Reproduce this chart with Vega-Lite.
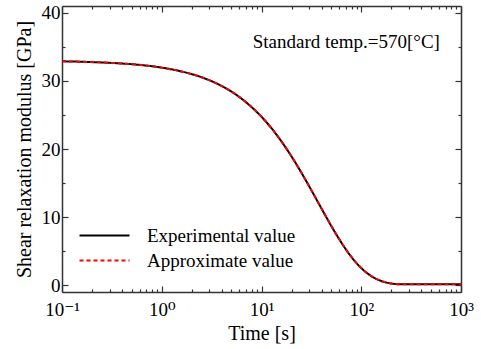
{
  "$schema": "https://vega.github.io/schema/vega-lite/v6.json",
  "width": 399,
  "height": 286,
  "autosize": {"type": "none"},
  "padding": {"left": 62, "top": 6, "right": 20, "bottom": 57},
  "background": "white",
  "config": {
    "view": {"stroke": null},
    "font": "Liberation Serif, DejaVu Serif",
    "axis": {"labelFont": "Liberation Serif, DejaVu Serif", "titleFont": "Liberation Serif, DejaVu Serif", "labelFontSize": 19, "titleFontSize": 20, "titleFontWeight": "normal", "labelColor": "black", "titleColor": "black", "domainColor": "#333", "tickColor": "#333", "domainWidth": 1.5, "tickWidth": 1.2, "grid": false},
    "legend": {"labelFont": "Liberation Serif, DejaVu Serif", "labelFontSize": 19, "labelColor": "black"},
    "text": {"font": "Liberation Serif, DejaVu Serif"}
  },
  "data": {"values": [
    {"t": 0.1, "G": 32.88, "series": "Experimental value"},
    {"t": 0.1778, "G": 32.79, "series": "Experimental value"},
    {"t": 0.3162, "G": 32.64, "series": "Experimental value"},
    {"t": 0.5623, "G": 32.39, "series": "Experimental value"},
    {"t": 1, "G": 31.95, "series": "Experimental value"},
    {"t": 1.334, "G": 31.62, "series": "Experimental value"},
    {"t": 1.778, "G": 31.2, "series": "Experimental value"},
    {"t": 2.371, "G": 30.66, "series": "Experimental value"},
    {"t": 3.162, "G": 29.96, "series": "Experimental value"},
    {"t": 4.217, "G": 29.06, "series": "Experimental value"},
    {"t": 5.623, "G": 27.93, "series": "Experimental value"},
    {"t": 7.499, "G": 26.49, "series": "Experimental value"},
    {"t": 10, "G": 24.73, "series": "Experimental value"},
    {"t": 12.59, "G": 23.05, "series": "Experimental value"},
    {"t": 15.85, "G": 21.11, "series": "Experimental value"},
    {"t": 19.95, "G": 18.93, "series": "Experimental value"},
    {"t": 25.12, "G": 16.52, "series": "Experimental value"},
    {"t": 31.62, "G": 13.95, "series": "Experimental value"},
    {"t": 39.81, "G": 11.3, "series": "Experimental value"},
    {"t": 50.12, "G": 8.69, "series": "Experimental value"},
    {"t": 63.1, "G": 6.27, "series": "Experimental value"},
    {"t": 79.43, "G": 4.18, "series": "Experimental value"},
    {"t": 100, "G": 2.52, "series": "Experimental value"},
    {"t": 125.9, "G": 1.34, "series": "Experimental value"},
    {"t": 158.5, "G": 0.62, "series": "Experimental value"},
    {"t": 199.5, "G": 0.25, "series": "Experimental value"},
    {"t": 251.2, "G": 0.13, "series": "Experimental value"},
    {"t": 398.1, "G": 0.12, "series": "Experimental value"},
    {"t": 631, "G": 0.12, "series": "Experimental value"},
    {"t": 1000, "G": 0.12, "series": "Experimental value"},
    {"t": 0.1, "G": 32.88, "series": "Approximate value"},
    {"t": 0.1778, "G": 32.79, "series": "Approximate value"},
    {"t": 0.3162, "G": 32.64, "series": "Approximate value"},
    {"t": 0.5623, "G": 32.39, "series": "Approximate value"},
    {"t": 1, "G": 31.95, "series": "Approximate value"},
    {"t": 1.334, "G": 31.62, "series": "Approximate value"},
    {"t": 1.778, "G": 31.2, "series": "Approximate value"},
    {"t": 2.371, "G": 30.66, "series": "Approximate value"},
    {"t": 3.162, "G": 29.96, "series": "Approximate value"},
    {"t": 4.217, "G": 29.06, "series": "Approximate value"},
    {"t": 5.623, "G": 27.93, "series": "Approximate value"},
    {"t": 7.499, "G": 26.49, "series": "Approximate value"},
    {"t": 10, "G": 24.73, "series": "Approximate value"},
    {"t": 12.59, "G": 23.05, "series": "Approximate value"},
    {"t": 15.85, "G": 21.11, "series": "Approximate value"},
    {"t": 19.95, "G": 18.93, "series": "Approximate value"},
    {"t": 25.12, "G": 16.52, "series": "Approximate value"},
    {"t": 31.62, "G": 13.95, "series": "Approximate value"},
    {"t": 39.81, "G": 11.3, "series": "Approximate value"},
    {"t": 50.12, "G": 8.69, "series": "Approximate value"},
    {"t": 63.1, "G": 6.27, "series": "Approximate value"},
    {"t": 79.43, "G": 4.18, "series": "Approximate value"},
    {"t": 100, "G": 2.52, "series": "Approximate value"},
    {"t": 125.9, "G": 1.34, "series": "Approximate value"},
    {"t": 158.5, "G": 0.62, "series": "Approximate value"},
    {"t": 199.5, "G": 0.25, "series": "Approximate value"},
    {"t": 251.2, "G": 0.13, "series": "Approximate value"},
    {"t": 398.1, "G": 0.12, "series": "Approximate value"},
    {"t": 631, "G": 0.12, "series": "Approximate value"},
    {"t": 1000, "G": 0.12, "series": "Approximate value"}
  ]},
  "resolve": {"axis": {"x": "independent", "y": "independent"}},
  "layer": [
    {
      "mark": {"type": "line", "strokeWidth": 2, "interpolate": "monotone"},
      "encoding": {
        "x": {"field": "t", "type": "quantitative",
          "scale": {"type": "log", "domain": [0.1, 1000], "nice": false},
          "axis": {"orient": "bottom", "title": "Time [s]", "titlePadding": 1,
            "values": [0.1,0.2,0.3,0.4,0.5,0.6,0.7,0.8,0.9,1,2,3,4,5,6,7,8,9,10,20,30,40,50,60,70,80,90,100,200,300,400,500,600,700,800,900,1000],
            "labelExpr": "datum.value == 0.1 ? '10⁻¹' : datum.value == 1 ? '10⁰' : datum.value == 10 ? '10¹' : datum.value == 100 ? '10²' : datum.value == 1000 ? '10³' : ''",
            "labelPadding": 14, "labelFlush": false, "labelOverlap": false,
            "tickSize": {"condition": {"test": "indexof([0.1,1,10,100,1000], datum.value) >= 0", "value": -6}, "value": -3}}},
        "y": {"field": "G", "type": "quantitative",
          "scale": {"domain": [-1, 41], "nice": false, "zero": false},
          "axis": {"orient": "left", "title": "Shear relaxation modulus [GPa]", "titlePadding": 7,
            "values": [0,5,10,15,20,25,30,35,40],
            "labelExpr": "datum.value % 10 == 0 ? datum.label : ''",
            "labelPadding": 8,
            "tickSize": {"condition": {"test": "datum.value % 10 == 0", "value": -6}, "value": -3}}},
        "color": {"field": "series", "type": "nominal",
          "scale": {"domain": ["Experimental value", "Approximate value"], "range": ["black", "#ff0000"]},
          "legend": {"title": null, "orient": "none", "legendX": 33, "legendY": 220, "symbolType": "M-5,0H5", "symbolSize": 100, "symbolStrokeWidth": 2, "symbolFillColor": "transparent", "rowPadding": 5, "labelOffset": 33, "padding": 0}},
        "strokeDash": {"field": "series", "type": "nominal",
          "scale": {"domain": ["Experimental value", "Approximate value"], "range": [[1, 0], [4, 3]]},
          "legend": null},
        "order": {"field": "series", "sort": "descending"}
      }
    },
    {
      "data": {"values": [{"t": 70.8, "G": 35.7, "label": "Standard temp.=570[°C]"}]},
      "mark": {"type": "text", "fontSize": 19, "font": "Liberation Serif, DejaVu Serif", "color": "black", "align": "center", "baseline": "middle"},
      "encoding": {
        "x": {"field": "t", "type": "quantitative",
          "scale": {"type": "log", "domain": [0.1, 1000], "nice": false},
          "axis": {"orient": "top", "title": null, "labels": false,
            "values": [0.1,0.2,0.3,0.4,0.5,0.6,0.7,0.8,0.9,1,2,3,4,5,6,7,8,9,10,20,30,40,50,60,70,80,90,100,200,300,400,500,600,700,800,900,1000],
            "tickSize": {"condition": {"test": "indexof([0.1,1,10,100,1000], datum.value) >= 0", "value": -6}, "value": -3}}},
        "y": {"field": "G", "type": "quantitative",
          "scale": {"domain": [-1, 41], "nice": false, "zero": false},
          "axis": {"orient": "right", "title": null, "labels": false,
            "values": [0,5,10,15,20,25,30,35,40],
            "tickSize": {"condition": {"test": "datum.value % 10 == 0", "value": -6}, "value": -3}}},
        "text": {"field": "label"}
      }
    }
  ]
}
